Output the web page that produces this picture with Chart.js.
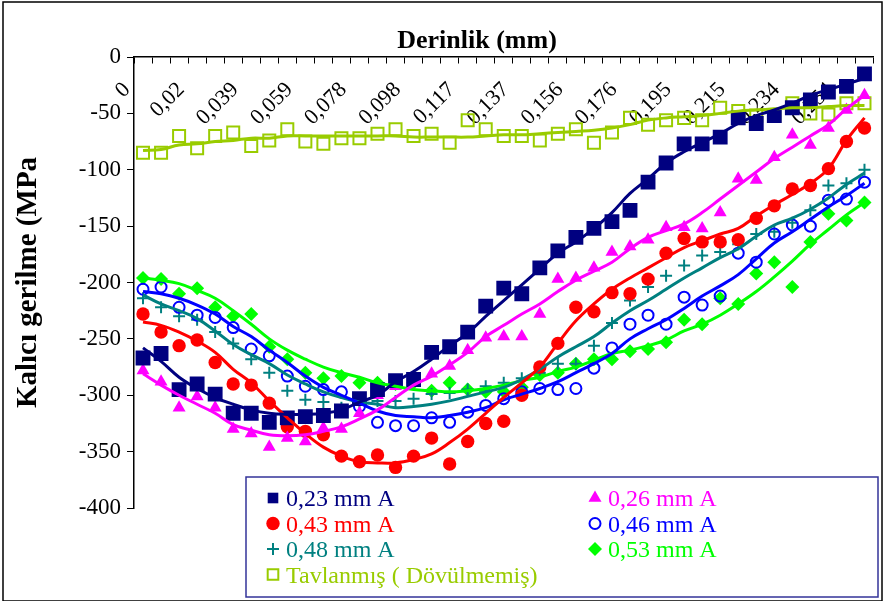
<!DOCTYPE html>
<html>
<head>
<meta charset="utf-8">
<title>Kalıcı gerilme - Derinlik</title>
<script src="https://cdn.jsdelivr.net/npm/chart.js@4.4.1/dist/chart.umd.min.js"></script>
<style>
  html, body { margin: 0; padding: 0; background: #fff; }
  canvas { display: block; }
</style>
</head>
<body>
<canvas id="stressChart" width="884" height="601"></canvas>
<script>
const serif = "'Liberation Serif', 'Times New Roman', serif";

// depth categories, a label on every third one
const depthLabels = ['0', '', '', '0,02', '', '', '0,039', '', '', '0,059', '', '', '0,078', '', '',
  '0,098', '', '', '0,117', '', '', '0,137', '', '', '0,156', '', '', '0,176', '', '', '0,195', '', '',
  '0,215', '', '', '0,234', '', '', '0,254', ''];

const xTitle = 'Derinlik (mm)';
const yTitle = 'Kalıcı gerilme (MPa';

// measured points (MPa)
const a023 = [-267, -263, -295, -290, -299, -316, -316, -324, -320, -319, -318, -314, -303, -295, -287, -286, -262, -257, -244, -221,
  -205, -210, -187, -172, -160, -152, -146, -136, -111, -94, -77, -77, -71, -54, -59, -52, -45, -38, -31, -26, -15];
const a026 = [-278, -288, -311, -301, -311, -330, -334, -346, -338, -341, -329, -330, -316, -300, -292, -284, -281, -274, -260, -249,
  -248, -248, -228, -197, -196, -187, -173, -168, -162, -151, -151, -152, -138, -108, -109, -89, -69, -78, -63, -47, -34];
const a043 = [-228, -244, -256, -251, -271, -290, -291, -307, -328, -332, -335, -354, -359, -353, -364, -354, -338, -361, -341, -325,
  -323, -300, -275, -254, -222, -226, -209, -210, -197, -174, -161, -164, -164, -162, -143, -132, -117, -114, -99, -75, -63];
const a046 = [-206, -204, -222, -229, -231, -240, -259, -265, -283, -292, -295, -297, -310, -324, -327, -327, -320, -324, -315, -309,
  -303, -297, -294, -295, -294, -276, -258, -237, -229, -237, -213, -220, -212, -174, -182, -157, -149, -150, -127, -126, -111];
const a048 = [-214, -222, -230, -233, -244, -254, -268, -280, -296, -304, -306, -311, -306, -305, -305, -303, -299, -298, -295, -292,
  -289, -285, -280, -272, -272, -256, -236, -216, -204, -194, -185, -176, -173, -166, -157, -155, -147, -136, -114, -112, -100];
const a053 = [-196, -197, -210, -205, -222, -230, -228, -257, -268, -280, -285, -283, -289, -289, -290, -289, -296, -289, -295, -297,
  -297, -293, -282, -280, -272, -268, -268, -261, -259, -253, -233, -237, -214, -219, -192, -182, -204, -164, -139, -145, -129];
const annealed = [-85, -85, -70, -81, -70, -67, -79, -74, -64, -75, -77, -72, -72, -68, -64, -70, -68, -76, -56, -64,
  -70, -70, -74, -68, -64, -76, -67, -54, -60, -56, -54, -56, -45, -48, -52, -52, -41, -50, -51, -41, -41];

// trend lines
const a023Trend = [-258, -270, -284, -294, -302, -308, -313, -316, -317, -317, -316, -313, -306, -300, -288, -279, -268, -256, -245, -230,
  -216, -202, -188, -174, -164, -152, -138, -121, -108, -94, -84, -76, -68, -59, -52, -47, -41, -34, -29, -24, -19];
const a026Trend = [-281, -291, -300, -308, -316, -326, -331, -335, -336, -335, -332, -328, -321, -313, -302, -291, -283, -273, -262, -248,
  -238, -228, -219, -208, -198, -190, -182, -170, -160, -154, -148, -138, -126, -114, -102, -90, -80, -70, -60, -46, -34];
const a043Trend = [-235, -238, -244, -252, -262, -277, -289, -305, -320, -334, -346, -354, -359, -360, -360, -357, -352, -342, -330, -316,
  -302, -289, -275, -254, -234, -219, -206, -196, -187, -178, -169, -163, -157, -152, -141, -131, -122, -112, -99, -74, -54];
const a046Trend = [-208, -210, -214, -220, -228, -239, -248, -260, -271, -283, -293, -300, -307, -314, -318, -319, -320, -318, -315, -311,
  -304, -299, -294, -288, -280, -272, -263, -250, -241, -233, -223, -212, -203, -193, -179, -165, -155, -144, -133, -123, -112];
const a048Trend = [-211, -219, -225, -232, -243, -255, -264, -272, -282, -290, -297, -302, -306, -308, -311, -310, -308, -305, -301, -297,
  -293, -286, -277, -266, -257, -248, -236, -225, -216, -206, -196, -187, -178, -170, -159, -149, -143, -135, -125, -113, -103];
const a053Trend = [-196, -198, -201, -207, -214, -225, -237, -250, -260, -268, -275, -280, -284, -289, -292, -295, -296, -297, -296, -294,
  -291, -287, -284, -279, -275, -269, -263, -260, -256, -251, -243, -237, -229, -219, -208, -195, -181, -166, -153, -140, -129];
const annealedTrend = [-83, -82, -78, -77, -75, -74, -72, -72, -70, -70, -70, -70, -70, -70, -70, -71, -71, -71, -71, -70,
  -69, -69, -68, -67, -66, -65, -63, -60, -56, -54, -53, -52, -50, -48, -47, -46, -45, -45, -44, -43, -43];

const yTicks = [0, -50, -100, -150, -200, -250, -300, -350, -400];

function markerSet(label, data, color, style, radius, filled) {
  return {
    type: 'line',
    label: label,
    data: data,
    showLine: false,
    order: 1,
    pointStyle: style,
    pointRadius: radius,
    pointBorderColor: color,
    pointBackgroundColor: filled ? color : 'rgba(0,0,0,0)',
    pointBorderWidth: filled && style !== 'cross' ? 0 : 2,
    borderColor: color,
    backgroundColor: color
  };
}

function trendSet(data, color) {
  return {
    type: 'line',
    label: '',
    data: data,
    order: 0,
    borderColor: color,
    borderWidth: 3,
    pointRadius: 0,
    tension: 0.4,
    fill: false
  };
}

const datasets = [
  markerSet('0,23 mm A', a023, '#000080', 'rect', 10.5, true),
  markerSet('0,26 mm A', a026, '#FF00FF', 'triangle', 7.5, true),
  markerSet('0,43 mm A', a043, '#FF0000', 'circle', 6.7, true),
  markerSet('0,46 mm A', a046, '#0000FF', 'circle', 5.5, false),
  markerSet('0,48 mm A', a048, '#008080', 'cross', 6, true),
  markerSet('0,53 mm A', a053, '#00FF00', 'rectRot', 7, true),
  markerSet('Tavlanmış ( Dövülmemiş)', annealed, '#99CC00', 'rect', 8.5, false),
  trendSet(a023Trend, '#000080'),
  trendSet(a026Trend, '#FF00FF'),
  trendSet(a043Trend, '#FF0000'),
  trendSet(a046Trend, '#0000FF'),
  trendSet(a048Trend, '#008080'),
  trendSet(a053Trend, '#00FF00'),
  trendSet(annealedTrend, '#99CC00')
];

// legend rows: [left dataset, right dataset]
const legendRows = [[0, 1], [2, 3], [4, 5], [6, null]];

const framePlugin = {
  id: 'frame',
  beforeDraw(chart) {
    const ctx = chart.ctx;
    ctx.save();
    ctx.fillStyle = '#fff';
    ctx.fillRect(0, 0, chart.width, chart.height);
    ctx.strokeStyle = '#000';
    ctx.lineWidth = 1.5;
    ctx.strokeRect(3, 2, chart.width - 5, chart.height - 2);
    ctx.restore();
  },
  afterDraw(chart) {
    const ctx = chart.ctx;
    ctx.save();
    ctx.fillStyle = '#000';
    ctx.font = 'bold 26px ' + serif;
    ctx.textAlign = 'center';
    ctx.textBaseline = 'alphabetic';
    ctx.fillText(xTitle, 477, 48);
    ctx.restore();
  }
};

const boxLegendPlugin = {
  id: 'boxLegend',
  afterDraw(chart) {
    const ctx = chart.ctx;
    const left = 246, top = 477, right = 878, bottom = 597;
    ctx.save();
    ctx.fillStyle = '#fff';
    ctx.fillRect(left, top, right - left, bottom - top);
    ctx.strokeStyle = '#333399';
    ctx.lineWidth = 1.5;
    ctx.strokeRect(left, top, right - left, bottom - top);
    ctx.font = '24px ' + serif;
    ctx.textBaseline = 'alphabetic';
    ctx.textAlign = 'left';
    const cols = [{ marker: 273, text: 286 }, { marker: 595, text: 608 }];
    legendRows.forEach((row, r) => {
      const base = 506 + r * 25.5;
      row.forEach((idx, c) => {
        if (idx === null) return;
        const ds = chart.data.datasets[idx];
        ctx.fillStyle = ds.pointBackgroundColor;
        ctx.strokeStyle = ds.pointBorderColor;
        ctx.lineWidth = ds.pointBorderWidth;
        Chart.helpers.drawPoint(ctx, {
          pointStyle: ds.pointStyle,
          radius: Math.min(ds.pointRadius, 7.5),
          rotation: 0,
          borderWidth: ds.pointBorderWidth
        }, cols[c].marker, base - 8);
        ctx.fillStyle = ds.pointBorderColor;
        ctx.fillText(ds.label, cols[c].text, base);
      });
    });
    ctx.restore();
  }
};

new Chart(document.getElementById('stressChart'), {
  type: 'line',
  data: { labels: depthLabels, datasets: datasets },
  options: {
    responsive: false,
    animation: false,
    layout: { padding: { top: 57, right: 7, bottom: 93, left: 0 } },
    plugins: {
      legend: { display: false },
      tooltip: { enabled: false }
    },
    scales: {
      x: {
        type: 'category',
        position: { y: 0 },
        offset: true,
        afterFit(scale) {
          // rotated labels sit inside the plot, no side padding needed
          scale.paddingLeft = 0;
          scale.paddingRight = 0;
        },
        grid: { offset: true, drawOnChartArea: false, drawTicks: true, tickLength: 6, color: '#000', lineWidth: 1 },
        border: { display: true, color: '#000', width: 1.5 },
        ticks: {
          autoSkip: false,
          minRotation: 45,
          maxRotation: 45,
          labelOffset: -16,
          padding: 14,
          color: '#000',
          font: { family: serif, size: 22 }
        }
      },
      y: {
        min: -400,
        max: 0,
        afterBuildTicks(scale) { scale.ticks = yTicks.map(v => ({ value: v })); },
        afterFit(scale) { scale.width = 134; },
        grid: { drawOnChartArea: false, tickLength: 7, color: '#000' },
        border: { color: '#000', width: 1.5 },
        ticks: { padding: 6, color: '#000', font: { family: serif, size: 23 } },
        title: {
          display: true,
          text: yTitle,
          color: '#000',
          padding: { top: 11, bottom: 0 },
          font: { family: serif, size: 29, weight: 'bold' }
        }
      }
    }
  },
  plugins: [framePlugin, boxLegendPlugin]
});
</script>
</body>
</html>
